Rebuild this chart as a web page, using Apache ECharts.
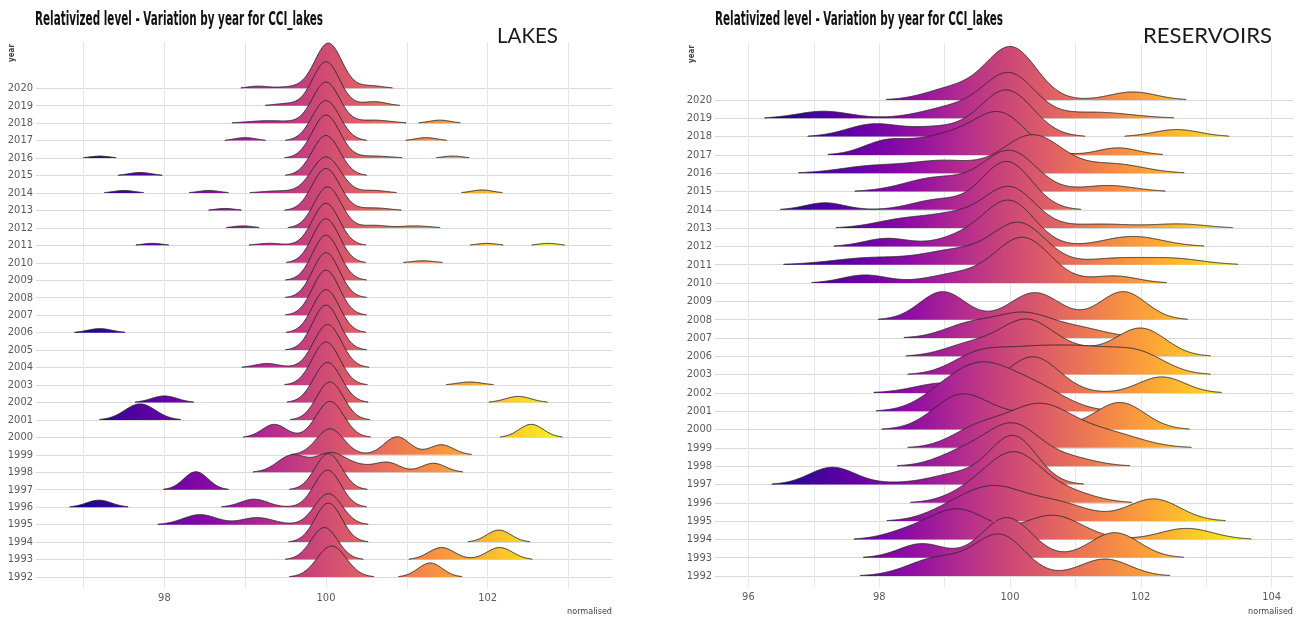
<!DOCTYPE html>
<html><head><meta charset="utf-8">
<script src="https://cdn.jsdelivr.net/npm/echarts@6/dist/echarts.min.js"></script>
<style>html,body{margin:0;padding:0;background:#fff}#c{width:1304px;height:623px}</style>
</head><body><div id="c"></div>
<script>
// ---------------- DATA ----------------
// Each ridge = list of density components [centre, relative height, spread].
const lakeYears = [2020,2019,2018,2017,2016,2015,2014,2013,2012,2011,2010,2009,2008,2007,2006,2005,2004,2003,2002,2001,2000,1999,1998,1997,1996,1995,1994,1993,1992];
const lakeBumps = [
  [[99.15,2,0.12],[99.6,1.5,0.2],[100.03,45,0.165],[100.55,2.5,0.15]],
  [[99.5,2,0.15],[100.0,44,0.165],[100.6,4,0.15]],
  [[99.3,2.5,0.25],[100.0,41,0.165],[100.6,3,0.2],[101.41,3,0.13]],
  [[99.0,3,0.13],[100.0,40,0.17],[101.24,3,0.13]],
  [[97.2,2,0.12],[100.0,43,0.17],[100.6,2,0.2],[101.57,2,0.12]],
  [[97.7,3,0.14],[100.0,40,0.17]],
  [[97.5,2.5,0.13],[98.55,2.5,0.13],[99.4,2,0.2],[100.0,36,0.18],[100.6,2.5,0.15],[101.93,3,0.13]],
  [[98.75,2,0.12],[100.0,42,0.17],[100.6,2.5,0.18]],
  [[98.97,2,0.12],[100.02,41,0.165],[100.6,2.5,0.15],[101.1,2,0.18]],
  [[97.85,2,0.12],[99.3,2,0.15],[100.0,42,0.165],[101.99,2,0.12],[102.75,2,0.12]],
  [[100.0,44,0.165],[101.2,2,0.14]],
  [[100.0,45,0.165]],
  [[100.0,45,0.165]],
  [[100.0,45,0.165]],
  [[97.2,4,0.15],[100.0,43,0.165]],
  [[100.0,45,0.165]],
  [[99.27,4,0.15],[100.02,43,0.17]],
  [[100.0,43,0.17],[101.78,3,0.15]],
  [[98.0,6.5,0.16],[100.02,40,0.17],[102.38,6,0.16]],
  [[97.7,16,0.19],[100.05,38,0.165]],
  [[99.36,13,0.15],[100.05,36,0.17],[102.54,13,0.15]],
  [[100.05,26,0.17],[100.88,18,0.16],[101.43,10,0.15]],
  [[99.58,17,0.18],[100.05,18,0.18],[100.4,6,0.2],[100.77,9,0.15],[101.33,9,0.15]],
  [[98.39,18,0.15],[100.03,36,0.165]],
  [[97.19,7,0.155],[99.11,8,0.17],[100.02,37,0.165]],
  [[98.44,10,0.21],[99.15,7,0.2],[100.03,31,0.17]],
  [[100.03,39,0.165],[102.14,12,0.15]],
  [[99.98,32,0.165],[101.43,12,0.16],[102.15,12,0.16]],
  [[100.07,31,0.18],[101.29,14,0.15]]
];
const resYears = [2020,2019,2018,2017,2016,2015,2014,2013,2012,2011,2010,2009,2008,2007,2006,2003,2002,2001,2000,1999,1998,1997,1996,1995,1994,1993,1992];
const resBumps = [
  [[99.15,12,0.42],[100.02,52,0.38],[101.88,8,0.35]],
  [[97.15,7,0.4],[99.2,12,0.5],[100.0,42,0.38],[101.3,6,0.55]],
  [[97.9,12,0.4],[98.9,9,0.45],[99.95,46,0.4],[102.55,7,0.35]],
  [[98.1,13,0.35],[99.0,18,0.45],[99.85,40,0.4],[101.65,7,0.3]],
  [[97.9,7,0.5],[99.0,12,0.5],[100.35,38,0.45],[101.6,9,0.45]],
  [[98.9,14,0.5],[100.0,40,0.4],[101.5,6,0.4]],
  [[97.17,7,0.3],[98.9,10,0.4],[99.95,48,0.38]],
  [[98.4,9,0.45],[99.2,12,0.4],[100.0,40,0.38],[101.4,4,0.5],[102.6,4,0.4]],
  [[98.12,8,0.35],[99.3,10,0.4],[100.0,44,0.38],[101.88,10,0.45]],
  [[97.9,7,0.6],[99.2,14,0.5],[100.15,40,0.4],[101.6,6,0.45],[102.5,6,0.45]],
  [[97.78,8,0.35],[99.2,9,0.45],[100.2,45,0.42],[101.6,7,0.35]],
  [],
  [[98.97,28,0.35],[100.38,27,0.38],[101.73,28,0.35]],
  [[99.4,14,0.4],[100.2,22,0.4],[101.0,10,0.45]],
  [[99.4,12,0.4],[100.25,35,0.4],[101.0,6,0.4],[102.0,28,0.38]],
  [[99.5,18,0.4],[100.3,22,0.5],[101.2,22,0.5],[102.0,18,0.4]],
  [[99.0,10,0.45],[100.35,36,0.4],[102.32,16,0.35]],
  [[99.0,15,0.4],[99.6,40,0.45],[100.4,22,0.45]],
  [[99.25,34,0.42],[100.2,14,0.45],[101.68,27,0.38]],
  [[99.5,18,0.4],[100.45,42,0.5],[101.5,14,0.5]],
  [[99.3,14,0.4],[100.05,40,0.4],[100.9,8,0.4]],
  [[97.28,17,0.35],[98.3,1.5,0.5],[99.2,10,0.4],[100.05,48,0.36]],
  [[99.5,14,0.4],[100.1,45,0.4],[100.9,10,0.4]],
  [[99.1,10,0.4],[99.75,30,0.45],[100.7,18,0.5],[102.2,22,0.4]],
  [[98.4,6,0.35],[99.2,30,0.45],[100.65,24,0.45],[102.7,11,0.4]],
  [[98.65,14,0.35],[99.95,40,0.38],[101.6,25,0.38]],
  [[98.9,18,0.45],[99.85,40,0.38],[101.45,17,0.38]]
];
const lakeXTicks = [97,98,99,100,101,102,103];
const lakeXLabels = [98,100,102];
const resXTicks = [96,97,98,99,100,101,102,103,104];
const resXLabels = [96,98,100,102,104];
const titleText = 'Relativized level - Variation by year for CCI_lakes';
const panelNames = ['LAKES','RESERVOIRS'];

// ---------------- HELPERS ----------------
const plasma = ['#0d0887','#41049d','#6a00a8','#8f0da4','#b12a90','#cc4778','#e16462','#f2844b','#fca636','#fcce25','#f0f921'];
const stops = plasma.map((c,i)=>({offset:i/(plasma.length-1), color:c}));
function dens(b,x){let s=0;for(const [m,h,sd] of b){const d=(x-m)/sd;s+=h*Math.exp(-0.5*d*d);}return s;}
function segs(b,lo,hi,step,cut){
  const out=[];let cur=null;const n=Math.round((hi-lo)/step);
  for(let i=0;i<=n;i++){const x=lo+i*step;const y=dens(b,x);
    if(y>=cut){if(!cur){cur=[];out.push(cur);}cur.push([x,y]);}else cur=null;}
  return out;
}
function buildPanel(bumps, lo, hi){
  let mx=0; bumps.forEach(b=>{for(let x=lo;x<=hi;x+=0.01){mx=Math.max(mx,dens(b,x));}});
  const cut = mx*0.01;
  const all = bumps.map(b=>segs(b,lo,hi,0.01,cut));
  let gmin=Infinity,gmax=-Infinity;
  all.forEach(ss=>ss.forEach(s=>{gmin=Math.min(gmin,s[0][0]);gmax=Math.max(gmax,s[s.length-1][0]);}));
  return {all, gmin, gmax};
}
function ridgeSeries(idx, years, panel, rowOf, hScale){
  return {
    type:'custom', xAxisIndex:idx, yAxisIndex:idx, clip:false, silent:true, animation:false,
    data: years.map(y=>[100,rowOf(y)]),
    renderItem:function(params, api){
      const i=params.dataIndex; const r=rowOf(years[i]);
      const a=api.coord([panel.gmin,r]), b=api.coord([panel.gmax,r]);
      const grad={type:'linear',x:a[0],y:0,x2:b[0],y2:0,global:true,colorStops:stops};
      const children=[];
      panel.all[i].forEach(s=>{
        const pts=s.map(([x,h])=>api.coord([x,r+h*hScale]));
        const b0=api.coord([s[0][0],r]), b1=api.coord([s[s.length-1][0],r]);
        const line=[b0].concat(pts,[b1]);
        children.push({type:'polygon',shape:{points:line},style:{fill:grad,stroke:null}});
        children.push({type:'polyline',shape:{points:line},style:{stroke:'#262626',lineWidth:0.9,fill:null}});
      });
      return {type:'group',children};
    }
  };
}

const lakePanel = buildPanel(lakeBumps, 96.4, 103.55);
const resPanel = buildPanel(resBumps, 95.5, 104.3);
const lakeRow = y => y-1992;
const resRow = y => resYears.length-1-resYears.indexOf(y);
const lakeRows = lakeYears.map(lakeRow);
const resRows = resYears.map(resRow);

const narrow = '"Liberation Sans Narrow","Arial Narrow","DejaVu Sans Condensed",sans-serif';
const gridCol = '#d9d9d9', vGridCol = '#e6e6e6', labCol = '#5a5a5a';

function xAxis(grid, min, max, ticks, labels){
  return {gridIndex:grid,type:'value',min,max,
    axisLine:{show:false},axisTick:{show:false,customValues:ticks},
    axisLabel:{customValues:labels,color:labCol,fontSize:11,fontFamily:narrow,margin:5},
    splitLine:{show:true,lineStyle:{color:vGridCol,width:1}}};
}
function yAxis(grid, min, max, rows, fmt){
  return {gridIndex:grid,type:'value',min,max,
    axisLine:{show:false},axisTick:{show:false,customValues:rows},
    axisLabel:{customValues:rows,formatter:fmt,color:labCol,fontSize:11,fontFamily:narrow,margin:3},
    splitLine:{show:true,lineStyle:{color:gridCol,width:1.2}}};
}

// text measurement for fitted graphic texts
const cv=document.createElement('canvas').getContext('2d');
function fitText(text, font, targetW){cv.font=font;return targetW/cv.measureText(text).width;}
const titleFont = 'bold 20px '+narrow;
const nameFont = '21px Lato,"Open Sans",sans-serif';

const chart = echarts.init(document.getElementById('c'), null, {renderer:'canvas'});
chart.setOption({
  animation:false,
  backgroundColor:'#ffffff',
  grid:[{left:36,top:42,width:576,height:546},{left:715,top:43,width:578,height:544}],
  xAxis:[xAxis(0,96.411,103.54,lakeXTicks,lakeXLabels), xAxis(1,95.489,104.327,resXTicks,resXLabels)],
  yAxis:[yAxis(0,-0.63,30.65,lakeRows,v=>String(1992+v)), yAxis(1,-0.6,29.11,resRows,v=>String(resYears[resYears.length-1-v]))],
  series:[
    ridgeSeries(0, lakeYears, lakePanel, lakeRow, 1/17.46),
    ridgeSeries(1, resYears, resPanel, resRow, 1/18.31)
  ],
  graphic:[
    {type:'text',x:35,y:20,scaleX:fitText(titleText,titleFont,288),style:{text:titleText,font:titleFont,fill:'#111',verticalAlign:'middle'}},
    {type:'text',x:715,y:20,scaleX:fitText(titleText,titleFont,288),style:{text:titleText,font:titleFont,fill:'#111',verticalAlign:'middle'}},
    {type:'text',x:497,y:36,scaleX:fitText(panelNames[0],nameFont,61),style:{text:panelNames[0],font:nameFont,fill:'#1a1a1a',verticalAlign:'middle'}},
    {type:'text',x:1143,y:36,scaleX:fitText(panelNames[1],nameFont,129),style:{text:panelNames[1],font:nameFont,fill:'#1a1a1a',verticalAlign:'middle'}},
    {type:'text',x:12,y:53,rotation:Math.PI/2,style:{text:'year',font:'bold 8px '+narrow,fill:'#444',align:'center',verticalAlign:'middle'}},
    {type:'text',x:692,y:54,rotation:Math.PI/2,style:{text:'year',font:'bold 8px '+narrow,fill:'#444',align:'center',verticalAlign:'middle'}},
    {type:'text',x:612,y:612,style:{text:'normalised',font:'9px '+narrow,fill:'#444',align:'right',verticalAlign:'middle'}},
    {type:'text',x:1293,y:612,style:{text:'normalised',font:'9px '+narrow,fill:'#444',align:'right',verticalAlign:'middle'}}
  ]
});
</script></body></html>
